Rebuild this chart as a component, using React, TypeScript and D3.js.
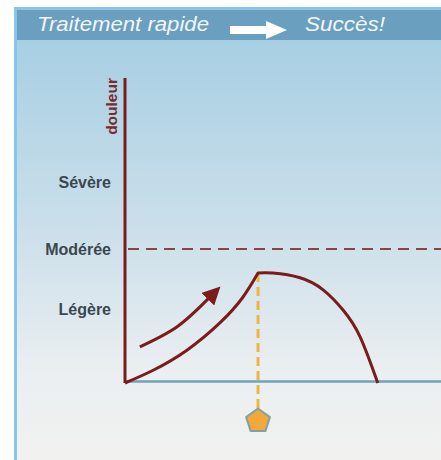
import React, { useEffect, useRef } from 'react';
import * as d3 from 'd3';

// pain levels (category labels on the vertical axis)
const levelLabels = ['Légère', 'Modérée', 'Sévère'];
const levelValues = [1.1, 2, 3];
const thresholdLevel = 2; // dashed "Modérée" line

// pain curve: onset rise, then relief after treatment
const riseTime = [0, 0.89, 1.96, 3.01, 3.73, 4.21];
const riseLevel = [0, 0.19, 0.49, 0.9, 1.28, 1.64];
const fallTime = [4.21, 4.68, 5.54, 6.27, 6.9, 7.44, 8.0];
const fallLevel = [1.64, 1.64, 1.57, 1.39, 1.09, 0.69, 0.0];

// trend arrow next to the rising part
const arrowTime = [0.47, 1.65, 2.66];
const arrowLevel = [0.54, 0.84, 1.27];

// moment of treatment
const treatmentTime = 4.21;

const headerLeft = 'Traitement rapide';
const headerRight = 'Succès!';

type Pt = { t: number; v: number };

const App: React.FC = () => {
  const ref = useRef<SVGSVGElement | null>(null);

  useEffect(() => {
    if (!ref.current) return;
    const svg = d3.select(ref.current);
    svg.selectAll('*').remove();

    const W = 441;
    const H = 460;

    // Scales
    const x = d3.scaleLinear().domain([0, 10]).range([125, 441]);
    const y = d3.scaleLinear().domain([0, 2]).range([383, 249]);
    const yTop = 78;

    const defs = svg.append('defs');
    const grad = defs.append('linearGradient')
      .attr('id', 'bg').attr('x1', 0).attr('y1', 0).attr('x2', 0).attr('y2', 1);
    grad.append('stop').attr('offset', '0%').attr('stop-color', '#a7cfe3');
    grad.append('stop').attr('offset', '45%').attr('stop-color', '#cbdfea');
    grad.append('stop').attr('offset', '80%').attr('stop-color', '#ebeff1');
    grad.append('stop').attr('offset', '100%').attr('stop-color', '#f1f1f0');

    defs.append('marker')
      .attr('id', 'head')
      .attr('viewBox', '0 0 10 10')
      .attr('refX', 1).attr('refY', 5)
      .attr('markerWidth', 6).attr('markerHeight', 6)
      .attr('markerUnits', 'strokeWidth')
      .attr('orient', 'auto')
      .append('path')
      .attr('d', 'M0,0 L10,5 L0,10 Z')
      .attr('fill', '#7a1c1c');

    // Page background
    svg.append('rect').attr('width', W).attr('height', H).attr('fill', '#ffffff');
    // panel frame
    svg.append('rect').attr('x', 14).attr('y', 7).attr('width', W - 14).attr('height', H - 7).attr('fill', '#86c6ea');
    svg.append('rect').attr('x', 17).attr('y', 40).attr('width', W - 17).attr('height', H - 40).attr('fill', 'url(#bg)');
    // header bar
    svg.append('rect').attr('x', 17).attr('y', 10).attr('width', W - 17).attr('height', 30).attr('fill', '#6a9fbf');

    svg.append('text')
      .attr('x', 37).attr('y', 31)
      .attr('fill', '#f2f6f8')
      .attr('textLength', 172)
      .attr('lengthAdjust', 'spacingAndGlyphs')
      .style('font-family', 'Liberation Sans, Arial, sans-serif')
      .style('font-style', 'italic')
      .style('font-size', '20px')
      .text(headerLeft);
    svg.append('path')
      .attr('d', 'M230,26 L266,26 L266,21 L287,30 L266,39 L266,34 L230,34 Z')
      .attr('fill', '#ffffff');
    svg.append('text')
      .attr('x', 305).attr('y', 31)
      .attr('fill', '#f2f6f8')
      .attr('textLength', 80)
      .attr('lengthAdjust', 'spacingAndGlyphs')
      .style('font-family', 'Liberation Sans, Arial, sans-serif')
      .style('font-style', 'italic')
      .style('font-size', '20px')
      .text(headerRight);

    const g = svg.append('g');

    // Threshold dashed line
    g.append('line')
      .attr('x1', x(0) + 3).attr('x2', W)
      .attr('y1', y(thresholdLevel)).attr('y2', y(thresholdLevel))
      .attr('stroke', '#8a4444').attr('stroke-width', 2)
      .attr('stroke-dasharray', '11,7');

    // X axis (time)
    g.append('line')
      .attr('x1', x(0)).attr('x2', W)
      .attr('y1', y(0) - 1.5).attr('y2', y(0) - 1.5)
      .attr('stroke', '#6ea4b7').attr('stroke-width', 2.5);

    // Y axis (pain)
    g.append('line')
      .attr('x1', x(0)).attr('x2', x(0))
      .attr('y1', yTop).attr('y2', y(0))
      .attr('stroke', '#7a1c1c').attr('stroke-width', 3);

    // Level labels
    levelLabels.forEach((lab, i) => {
      g.append('text')
        .attr('x', 111).attr('y', y(levelValues[i]))
        .attr('dy', '0.35em')
        .attr('text-anchor', 'end')
        .attr('fill', '#3b4750')
        .style('font-family', 'Liberation Sans, Arial, sans-serif')
        .style('font-weight', 'bold')
        .style('font-size', '16px')
        .text(lab);
    });

    g.append('text')
      .attr('transform', `translate(117,${yTop}) rotate(-90)`)
      .attr('text-anchor', 'end')
      .attr('fill', '#7a2a2a')
      .style('font-family', 'Liberation Sans, Arial, sans-serif')
      .style('font-weight', 'bold')
      .style('font-size', '15.5px')
      .text('douleur');

    // Treatment marker line
    const peak = riseLevel[riseLevel.length - 1];
    g.append('line')
      .attr('x1', x(treatmentTime)).attr('x2', x(treatmentTime))
      .attr('y1', y(peak)).attr('y2', 410)
      .attr('stroke', '#f2b441').attr('stroke-width', 3)
      .attr('stroke-dasharray', '9,5');

    const line = d3.line<Pt>()
      .x(d => x(d.t))
      .y(d => y(d.v))
      .curve(d3.curveNatural);

    const rise: Pt[] = riseTime.map((t, i) => ({ t, v: riseLevel[i] }));
    const fall: Pt[] = fallTime.map((t, i) => ({ t, v: fallLevel[i] }));

    g.append('path')
      .attr('d', (line(rise) || '') + (line(fall) || '').replace(/^M/, 'L'))
      .attr('fill', 'none')
      .attr('stroke', '#7a1c1c')
      .attr('stroke-width', 3)
      .attr('stroke-linejoin', 'miter');

    // Trend arrow
    const arrow: Pt[] = arrowTime.map((t, i) => ({ t, v: arrowLevel[i] }));
    g.append('path')
      .attr('d', line(arrow) || '')
      .attr('fill', 'none')
      .attr('stroke', '#7a1c1c')
      .attr('stroke-width', 3)
      .attr('marker-end', 'url(#head)');

    // Treatment pentagon
    const r = 12.5;
    const pent = d3.range(5).map(k => {
      const a = -Math.PI / 2 + (k * 2 * Math.PI) / 5;
      return [x(treatmentTime) + r * Math.cos(a), 421 + r * Math.sin(a)] as [number, number];
    });
    g.append('path')
      .attr('d', 'M' + pent.map(p => p.join(',')).join('L') + 'Z')
      .attr('fill', '#f2a93a')
      .attr('stroke', '#7ea2a8')
      .attr('stroke-width', 2)
      .attr('stroke-linejoin', 'round');
  }, []);

  return (
    <svg
      ref={ref}
      width={441}
      height={460}
      style={{ position: 'absolute', left: 0, top: 0, display: 'block' }}
    />
  );
};

export default App;
